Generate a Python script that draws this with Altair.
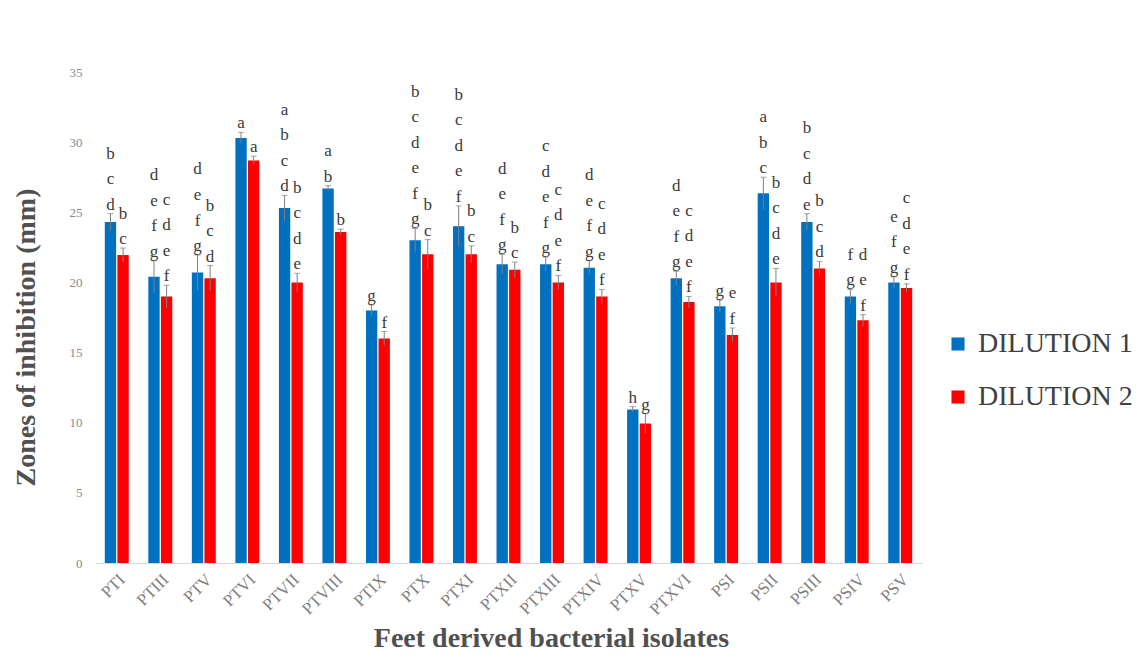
import altair as alt
import pandas as pd

isolates = ["PTI", "PTIII", "PTV", "PTVI", "PTVII", "PTVIII", "PTIX", "PTX", "PTXI",
            "PTXII", "PTXIII", "PTXIV", "PTXV", "PTXVI", "PSI", "PSII", "PSIII", "PSIV", "PSV"]
series = ["DILUTION 1", "DILUTION 2"]

dil1 = [24.3, 20.4, 20.7, 30.3, 25.3, 26.7, 18.0, 23.0, 24.0, 21.3, 21.3, 21.05, 10.95,
        20.3, 18.3, 26.35, 24.3, 19.0, 20.0]
dil2 = [21.95, 19.0, 20.3, 28.7, 20.0, 23.6, 16.0, 22.0, 22.0, 20.9, 20.0, 19.0, 9.95,
        18.6, 16.25, 20.0, 21.0, 17.3, 19.6]
err1 = [0.6, 1.15, 1.25, 0.4, 0.9, 0.2, 0.4, 0.85, 1.45, 0.7, 0.5, 0.5, 0.2, 0.5, 0.45,
        1.15, 0.6, 0.5, 0.4]
err2 = [0.5, 0.8, 0.9, 0.3, 0.65, 0.2, 0.5, 1.05, 0.6, 0.55, 0.5, 0.5, 0.7, 0.4, 0.5,
        1.0, 0.5, 0.4, 0.3]
let1 = ["bcd", "defg", "defg", "a", "abcd", "ab", "g", "bcdefg", "bcdef", "defg", "cdefg",
        "defg", "h", "defg", "g", "abc", "bcde", "fg", "efg"]
let2 = ["bc", "cdef", "bcd", "a", "bcde", "b", "f", "bc", "bc", "bc", "cdef", "cdef", "g",
        "cdef", "ef", "bcde", "bcd", "def", "cdef"]

LINE = 1.82  # letter line spacing in data units

rows, trows = [], []
for i, iso in enumerate(isolates):
    for s, vals, errs, lets in ((series[0], dil1, err1, let1), (series[1], dil2, err2, let2)):
        v, e = vals[i], errs[i]
        rows.append(dict(isolate=iso, series=s, value=v, lo=v - e, hi=v + e))
        for k, ch in enumerate(reversed(lets[i])):
            trows.append(dict(isolate=iso, series=s, letter=ch, ly=v + e + k * LINE))

bars_df = pd.DataFrame(rows)
text_df = pd.DataFrame(trows)

SERIF = "Liberation Serif"

x_enc = alt.X("isolate:N", sort=isolates,
              scale=alt.Scale(paddingInner=0.45, paddingOuter=0.225),
              axis=alt.Axis(title="Feet derived bacterial isolates", labelAngle=-45,
                            labelFont=SERIF, labelFontSize=17, labelColor="#7f7f7f",
                            labelPadding=8, ticks=False, domain=True, domainColor="#d9d9d9",
                            titleFont=SERIF, titleFontSize=28, titleFontWeight="bold",
                            titleColor="#505050", titleX=456, titleY=83,
                            titleAlign="center", titleBaseline="alphabetic"))
xo = alt.XOffset("series:N", sort=series, scale=alt.Scale(paddingInner=0.1))
y_scale = alt.Scale(domain=[0, 35], nice=False)

bars = alt.Chart(bars_df).mark_bar().encode(
    x=x_enc,
    xOffset=xo,
    y=alt.Y("value:Q", scale=y_scale,
            axis=alt.Axis(title="Zones of inhibition  (mm)", values=[0, 5, 10, 15, 20, 25, 30, 35],
                          grid=False, domain=False, ticks=False, labelFont=SERIF,
                          labelFontSize=13, labelColor="#8a8a8a", labelPadding=13,
                          titleFont=SERIF, titleFontSize=28, titleFontWeight="bold",
                          titleColor="#505050", titleX=-69, titleY=265, titleAngle=-90,
                          titleAlign="center", titleBaseline="middle")),
    color=alt.Color("series:N", sort=series,
                    scale=alt.Scale(domain=series, range=["#0070C0", "#FF0000"]),
                    legend=alt.Legend(title=None, orient="none", legendX=849, legendY=258,
                                      symbolType="square", symbolSize=170, symbolStrokeWidth=0,
                                      labelFont=SERIF, labelFontSize=28, labelColor="#404040",
                                      labelOffset=6, labelLimit=400, rowPadding=25)),
)

rules = alt.Chart(bars_df).mark_rule(color="#7f7f7f", strokeWidth=1).encode(
    x=alt.X("isolate:N", sort=isolates), xOffset=xo,
    y=alt.Y("lo:Q", scale=y_scale), y2="hi:Q")

caps = alt.Chart(bars_df).mark_tick(color="#7f7f7f", thickness=1, size=6).encode(
    x=alt.X("isolate:N", sort=isolates), xOffset=xo,
    y=alt.Y("hi:Q", scale=y_scale))

letters = alt.Chart(text_df).mark_text(font=SERIF, fontSize=17, color="#3a3a3a",
                                       baseline="bottom", align="center").encode(
    x=alt.X("isolate:N", sort=isolates), xOffset=xo,
    y=alt.Y("ly:Q", scale=y_scale),
    text="letter:N")

chart = alt.layer(bars, rules, caps, letters).properties(
    width=827, height=491,
    background="white",
    autosize=alt.AutoSizeParams(type="none"),
    padding={"left": 87, "top": 64, "right": 216, "bottom": 88},
).configure_view(stroke=None).configure_legend(labelFont=SERIF)

chart.save("out.html", embed_options={"renderer": "svg", "actions": False})
